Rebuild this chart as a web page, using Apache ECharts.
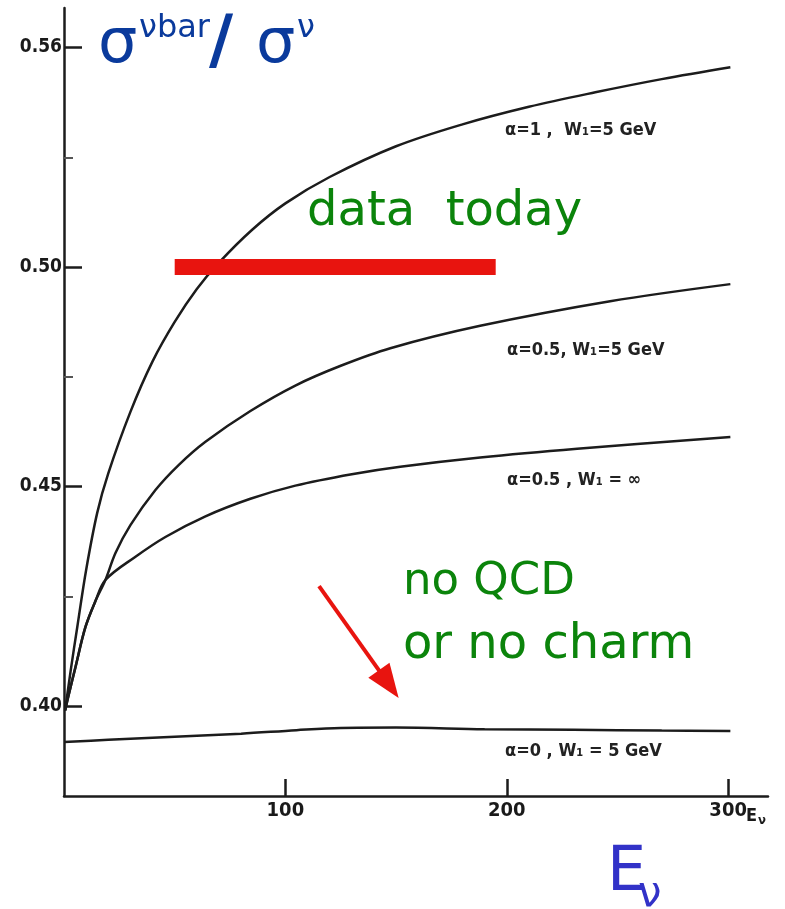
<!DOCTYPE html>
<html>
<head>
<meta charset="utf-8">
<script src="https://cdn.jsdelivr.net/npm/echarts@6/dist/echarts.min.js"></script>
<style>
  html, body { margin: 0; padding: 0; background: #ffffff; }
  #chart { width: 785px; height: 909px; }
</style>
</head>
<body>
<div id="chart"></div>
<script>
// Antineutrino / neutrino cross-section ratio versus neutrino energy (GeV)
// Each curve: [E_nu, ratio]
const curveAlpha1W5 = [
  [0.5, 0.399], [3, 0.408], [6, 0.418], [10, 0.431], [15, 0.444], [20, 0.453],
  [30, 0.467], [40, 0.4785], [50, 0.4875], [60, 0.495], [70, 0.501],
  [85, 0.5085], [100, 0.5145], [120, 0.5205], [150, 0.5275], [180, 0.5325],
  [210, 0.5365], [240, 0.5398], [270, 0.5428], [301, 0.5455]
];
const curveAlpha05W5 = [
  [0.5, 0.399], [2, 0.4023], [5.2, 0.4089], [9.7, 0.418], [14.2, 0.4239],
  [18.7, 0.4287], [23.3, 0.4349], [30, 0.4412], [41.3, 0.4492], [52, 0.455],
  [63.9, 0.4602], [84.2, 0.4672], [104.5, 0.473], [125, 0.4775],
  [147.4, 0.4815], [188, 0.4866], [246.7, 0.4922], [301, 0.4961]
];
const curveAlpha05WInf = [
  [0.5, 0.399], [2, 0.4023], [5.2, 0.4089], [9.7, 0.418], [14.2, 0.4239],
  [18.7, 0.4287], [32.3, 0.434], [45.8, 0.4385], [63.9, 0.4432],
  [84.2, 0.4472], [104.5, 0.4502], [130, 0.4528], [151.9, 0.4545],
  [188, 0.4566], [231.8, 0.4586], [301, 0.4613]
];
const curveAlpha0W5 = [
  [0, 0.3918], [20, 0.3923], [50, 0.393], [80, 0.3937], [105, 0.3945],
  [125, 0.395], [150, 0.3951], [190, 0.3947], [230, 0.3946], [270, 0.3944],
  [301, 0.3943]
];

// Measured value today, drawn as a band across an energy range
const dataTodayRatio = 0.50;
const dataTodayRange = [50, 195];

// Arrow pointing at the alpha = 0 curve
const arrowFrom = [115.2, 0.4273];
const arrowTo = [146.7, 0.4050];

const yTickValues = [0.40, 0.45, 0.50, 0.55];
const yTickLabels = ['0.40', '0.45', '0.50', '0.56'];
const yMinorTickValues = [0.425, 0.475, 0.525];
const xTickValues = [100, 200, 300];
const xTickLabels = ['100', '200', '300'];

const curveLabels = [
  'α=1 ,  W₁=5 GeV',
  'α=0.5, W₁=5 GeV',
  'α=0.5 , W₁ = ∞',
  'α=0 , W₁ = 5 GeV'
];

const ink = '#1c1c1c';
const red = '#e8140f';
const green = '#0b840b';
const navy = '#0a3a9c';
const violet = '#3232c8';
const tickFont = 'DejaVu Sans Condensed';
const noteFont = 'bold 18px "DejaVu Sans Condensed"';

function labelFor(values, labels) {
  return function (v) {
    for (let i = 0; i < values.length; i++) {
      if (Math.abs(values[i] - v) < 1e-6) return labels[i];
    }
    return '';
  };
}

function curve(name, data) {
  return {
    name: name,
    type: 'line',
    data: data,
    smooth: 0.35,
    symbol: 'none',
    lineStyle: { color: ink, width: 2.5 },
    silent: true,
    z: 3
  };
}

const chart = echarts.init(document.getElementById('chart'), null, { renderer: 'canvas' });

chart.setOption({
  animation: false,
  backgroundColor: '#ffffff',
  grid: { left: 64, top: 8, right: 17, bottom: 113, containLabel: false },
  xAxis: {
    type: 'value',
    min: 0,
    max: 318,
    axisLine: { show: true, lineStyle: { color: ink, width: 2.5 } },
    splitLine: { show: false },
    axisTick: {
      show: true, inside: true, length: 17,
      customValues: xTickValues,
      lineStyle: { color: ink, width: 2.5 }
    },
    axisLabel: {
      show: true, margin: 5,
      customValues: xTickValues,
      formatter: labelFor(xTickValues, xTickLabels),
      fontFamily: tickFont, fontWeight: 'bold', fontSize: 20, color: '#1a1a1a'
    }
  },
  yAxis: [{
    type: 'value',
    min: 0.3795,
    max: 0.559,
    axisLine: { show: true, lineStyle: { color: ink, width: 2.5 } },
    splitLine: { show: false },
    axisTick: {
      show: true, inside: true, length: 18,
      customValues: yTickValues,
      lineStyle: { color: ink, width: 2.5 }
    },
    axisLabel: {
      show: true, margin: 2,
      customValues: yTickValues,
      formatter: labelFor(yTickValues, yTickLabels),
      fontFamily: tickFont, fontWeight: 'bold', fontSize: 19, color: '#1a1a1a'
    }
  }, {
    type: 'value',
    min: 0.3795,
    max: 0.559,
    position: 'left',
    axisLine: { show: false },
    splitLine: { show: false },
    axisLabel: { show: false },
    axisTick: {
      show: true, inside: true, length: 9,
      customValues: yMinorTickValues,
      lineStyle: { color: '#555', width: 2 }
    }
  }],
  series: [
    curve('α=1, W1=5 GeV', curveAlpha1W5),
    curve('α=0.5, W1=5 GeV', curveAlpha05W5),
    curve('α=0.5, W1=∞', curveAlpha05WInf),
    curve('α=0, W1=5 GeV', curveAlpha0W5),
    {
      name: 'data today',
      type: 'line',
      data: [[dataTodayRange[0], dataTodayRatio], [dataTodayRange[1], dataTodayRatio]],
      symbol: 'none',
      lineStyle: { color: red, width: 16, cap: 'butt' },
      silent: true,
      z: 5,
      markLine: {
        silent: true,
        symbol: ['none', 'triangle'],
        symbolSize: [26, 34],
        label: { show: false },
        lineStyle: { color: red, width: 4, type: 'solid' },
        data: [[{ coord: arrowFrom }, { coord: arrowTo }]]
      }
    }
  ],
  graphic: [
    // y-axis quantity
    { type: 'text', style: { text: 'σ', x: 98, y: 45.5, font: '62px "DejaVu Sans"', fill: navy, verticalAlign: 'middle' } },
    { type: 'text', style: { text: 'νbar', x: 139, y: 29, font: '32px "DejaVu Sans"', fill: navy, verticalAlign: 'middle' } },
    { type: 'text', style: { text: '/', x: 209, y: 45, font: 'bold 66px "DejaVu Sans"', fill: navy, verticalAlign: 'middle' } },
    { type: 'text', style: { text: 'σ', x: 256, y: 45.5, font: '62px "DejaVu Sans"', fill: navy, verticalAlign: 'middle' } },
    { type: 'text', style: { text: 'ν', x: 297, y: 29, font: '32px "DejaVu Sans"', fill: navy, verticalAlign: 'middle' } },
    // x-axis quantity
    { type: 'text', style: { text: 'E', x: 607, y: 873.5, font: '62px "DejaVu Sans"', fill: violet, verticalAlign: 'middle' } },
    { type: 'text', style: { text: 'ν', x: 638, y: 895.5, font: '42px "DejaVu Sans"', fill: violet, verticalAlign: 'middle' } },
    // small axis unit next to the last tick
    { type: 'text', style: { text: 'E', x: 746, y: 816, font: 'bold 18px "DejaVu Sans Condensed"', fill: '#1a1a1a', verticalAlign: 'middle' } },
    { type: 'text', style: { text: 'ν', x: 758, y: 821, font: 'bold 13px "DejaVu Sans Condensed"', fill: '#1a1a1a', verticalAlign: 'middle' } },
    // curve labels
    { type: 'text', style: { text: curveLabels[0], x: 505, y: 130, font: noteFont, fill: '#222', verticalAlign: 'middle' } },
    { type: 'text', style: { text: curveLabels[1], x: 507, y: 350, font: noteFont, fill: '#222', verticalAlign: 'middle' } },
    { type: 'text', style: { text: curveLabels[2], x: 507, y: 480, font: noteFont, fill: '#222', verticalAlign: 'middle' } },
    { type: 'text', style: { text: curveLabels[3], x: 505, y: 751, font: noteFont, fill: '#222', verticalAlign: 'middle' } },
    // annotations
    { type: 'text', style: { text: 'data  today', x: 307, y: 212.7, font: '48px "DejaVu Sans"', fill: green, verticalAlign: 'middle' } },
    { type: 'text', style: { text: 'no QCD', x: 403, y: 582, font: '45px "DejaVu Sans"', fill: green, verticalAlign: 'middle' } },
    { type: 'text', style: { text: 'or no charm', x: 403, y: 646, font: '48px "DejaVu Sans"', fill: green, verticalAlign: 'middle' } }
  ]
});
</script>
</body>
</html>
